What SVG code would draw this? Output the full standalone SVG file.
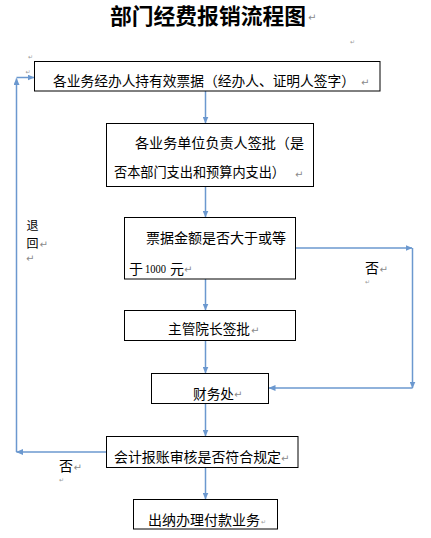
<svg xmlns="http://www.w3.org/2000/svg" width="431" height="538" viewBox="0 0 431 538">
<style>
.box{fill:#fff;stroke:#000;stroke-width:1}
.t{font-family:"Noto Sans CJK SC","Noto Sans CJK JP",sans-serif;font-size:14px;fill:#000}
.title{font-family:"Noto Sans CJK SC",sans-serif;font-size:21.5px;font-weight:bold;fill:#000}
.num{font-family:"Liberation Serif",serif;font-size:12.5px;fill:#000}
.pm{font-family:"DejaVu Sans",sans-serif;font-size:10px;fill:#8a8a8a}
.pm2{font-family:"DejaVu Sans",sans-serif;font-size:6px;fill:#9a9a9a}
.c path{fill:none;stroke:#6b98cf;stroke-width:1.5;marker-end:url(#ah)}
</style>
<defs>
<marker id="ah" markerWidth="7" markerHeight="6" refX="6.5" refY="3" orient="auto" markerUnits="userSpaceOnUse">
<path d="M0,0 L7,3 L0,6 Z" fill="#6b98cf"/>
</marker>
</defs>
<rect width="431" height="538" fill="#fff"/>
<g id="title">
<text class="title" x="110" y="23.5" textLength="196" lengthAdjust="spacingAndGlyphs">部门经费报销流程图</text>
<text class="pm" x="308" y="21">↵</text>
</g>
<g id="marks">
<text class="pm2" x="350" y="44">↵</text>
<text class="pm2" x="28" y="59">↵</text>
<text class="pm2" x="25.5" y="74">↵</text>
</g>
<g class="c" id="connectors">
<path d="M205.5 91 V123"/>
<path d="M205.5 186.5 V217"/>
<path d="M205.5 279 V310"/>
<path d="M205.5 340.5 V373"/>
<path d="M205.5 403.5 V436"/>
<path d="M205.5 467.5 V499"/>
<path d="M295.5 248 H412"/>
<path d="M412.5 248 V388"/>
<path d="M412.5 388 H269"/>
<path d="M106.5 452 H16.5"/>
<path d="M16.5 452 V78.5"/>
<path d="M16.5 77.5 H34"/>
</g>
<g id="n1">
<rect class="box" x="34.5" y="61.5" width="345.5" height="29.5"/>
<text class="t" x="53" y="86.3" textLength="302" lengthAdjust="spacingAndGlyphs">各业务经办人持有效票据（经办人、证明人签字）</text>
<text class="pm" x="361" y="86">↵</text>
</g>
<g id="n2">
<rect class="box" x="106.5" y="123.5" width="207" height="63"/>
<text class="t" x="135" y="148.3" textLength="169" lengthAdjust="spacingAndGlyphs">各业务单位负责人签批（是</text>
<text class="t" x="114" y="177" textLength="171" lengthAdjust="spacingAndGlyphs">否本部门支出和预算内支出）</text>
<text class="pm" x="295" y="178">↵</text>
</g>
<g id="n3">
<rect class="box" x="124.5" y="217.5" width="171" height="61.5"/>
<text class="t" x="129" y="273.6">于</text>
<text class="t" x="146" y="242.6" textLength="140" lengthAdjust="spacingAndGlyphs">票据金额是否大于或等</text>
<text class="num" x="145" y="273.2" textLength="21" lengthAdjust="spacingAndGlyphs">1000</text>
<text class="t" x="170" y="273.6">元</text>
<text class="pm" x="184" y="273">↵</text>
</g>
<g id="n4">
<rect class="box" x="124.5" y="310.5" width="171" height="30"/>
<text class="t" x="168" y="334.3" textLength="82" lengthAdjust="spacingAndGlyphs">主管院长签批</text>
<text class="pm" x="251" y="334">↵</text>
</g>
<g id="n5">
<rect class="box" x="151.5" y="373.5" width="117" height="30"/>
<text class="t" x="193" y="398.6" textLength="41" lengthAdjust="spacingAndGlyphs">财务处</text>
<text class="pm" x="234" y="398">↵</text>
</g>
<g id="n6">
<rect class="box" x="106.5" y="436.5" width="191.5" height="31"/>
<text class="t" x="114" y="462" textLength="167" lengthAdjust="spacingAndGlyphs">会计报账审核是否符合规定</text>
<text class="pm" x="281" y="462">↵</text>
</g>
<g id="n7">
<rect class="box" x="133.5" y="499.5" width="144" height="29.5"/>
<text class="t" x="148" y="524.6" textLength="112" lengthAdjust="spacingAndGlyphs">出纳办理付款业务</text>
<text class="pm2" x="261" y="524">↵</text>
</g>
<g id="labels">
<text class="t" style="font-size:12px"><tspan x="26.5" y="230">退</tspan><tspan x="26.5" y="247.6">回</tspan></text>
<text class="pm" x="39.5" y="248">↵</text>
<text class="pm" x="26" y="262">↵</text>
<text class="t" x="365" y="273.3">否</text>
<text class="pm" x="379.5" y="273">↵</text>
<text class="pm2" x="365" y="284">↵</text>
<text class="t" x="59" y="471">否</text>
<text class="pm" x="73.5" y="471">↵</text>
<text class="pm2" x="59" y="482">↵</text>
</g>
</svg>
